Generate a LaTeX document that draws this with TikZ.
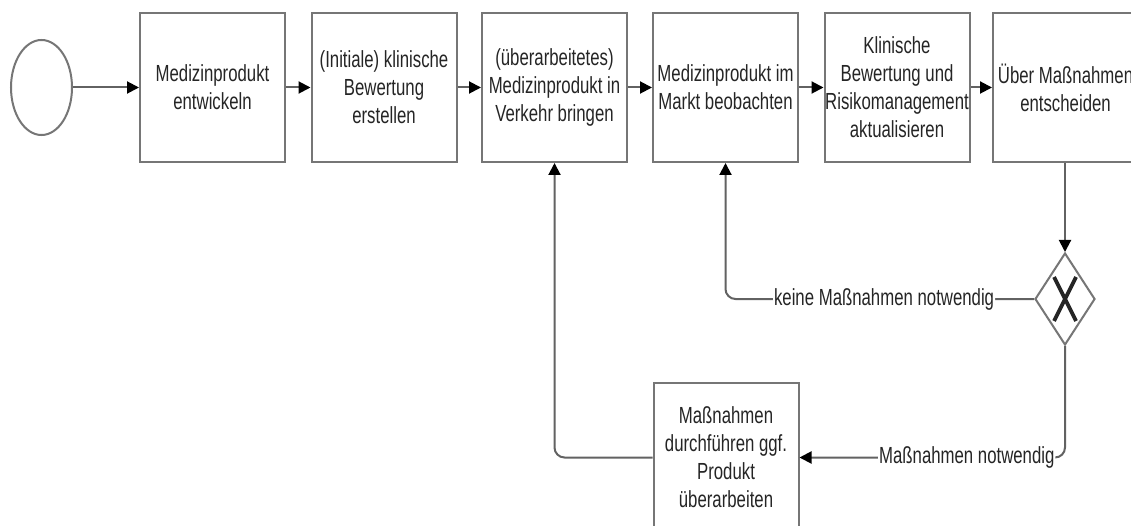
\documentclass[tikz,border=0pt]{standalone}
\usepackage{fontspec}
\newfontfamily\flowfont{Liberation Sans}[FakeStretch=0.72]
\usetikzlibrary{arrows.meta,shapes.geometric}
\definecolor{edge}{HTML}{767676}
\definecolor{wire}{HTML}{626262}
\definecolor{ink}{HTML}{252525}
\tikzset{
  txt/.style={font=\flowfont\fontsize{23.3pt}{28pt}\selectfont, text=ink, align=center},
  task/.style={txt, draw=edge, line width=2pt, minimum width=145pt, minimum height=149pt, inner sep=0pt},
  flow/.style={draw=wire, line width=2pt, -{Triangle[length=12pt,width=12pt,fill=black,color=black]}},
  lbl/.style={txt, fill=white, inner sep=1pt},
}
\begin{document}
\begin{tikzpicture}[x=1pt,y=-1pt]
\clip (0,0) rectangle (1131,526);
\fill[white] (0,0) rectangle (1131,526);

% start event
\node[ellipse, draw=edge, line width=2pt, minimum width=61pt, minimum height=95pt, inner sep=0pt] (start) at (41.5,87.5) {};

% process steps
\node[task] (b1) at (212.5,87.5) {Medizinprodukt\\entwickeln};
\node[task] (b2) at (384,87.5) {(Initiale) klinische\\Bewertung\\erstellen};
\node[task] (b3) at (554.5,87.5) {(überarbeitetes)\\Medizinprodukt in\\Verkehr bringen};
\node[task] (b4) at (725.5,87.5) {Medizinprodukt im\\Markt beobachten};
\node[task] (b5) at (897,87.5) {Klinische\\Bewertung und\\Risikomanagement\\aktualisieren};
\node[task] (b6) at (1065.5,87.5) {Über Maßnahmen\\entscheiden};
\node[task] (b7) at (726,457.5) {Maßnahmen\\durchführen ggf.\\Produkt\\überarbeiten};

% exclusive gateway
\node[diamond, draw=edge, line width=2pt, minimum width=60pt, minimum height=92pt, inner sep=0pt] (gw) at (1065,299) {};
\draw[ink, line width=3.8pt] ([shift={(-11,-22)}]gw.center) -- ([shift={(11,22)}]gw.center)
                             ([shift={(11,-22)}]gw.center) -- ([shift={(-11,22)}]gw.center);

% sequence flows
\draw[flow] (start) -- (b1);
\draw[flow] (b1) -- (b2);
\draw[flow] (b2) -- (b3);
\draw[flow] (b3) -- (b4);
\draw[flow] (b4) -- (b5);
\draw[flow] (b5) -- (b6);
\draw[flow] (b6.south -| gw.north) -- (gw.north);
\draw[flow, rounded corners=10pt] (gw.west) -| node[lbl, pos=0.243] {keine Maßnahmen notwendig} (b4.south);
\draw[flow, rounded corners=10pt] (gw.south) |- node[lbl, pos=0.685] {Maßnahmen notwendig} (b7.east);
\draw[flow, rounded corners=10pt] (b7.west) -| (b3.south);
\end{tikzpicture}
\end{document}
